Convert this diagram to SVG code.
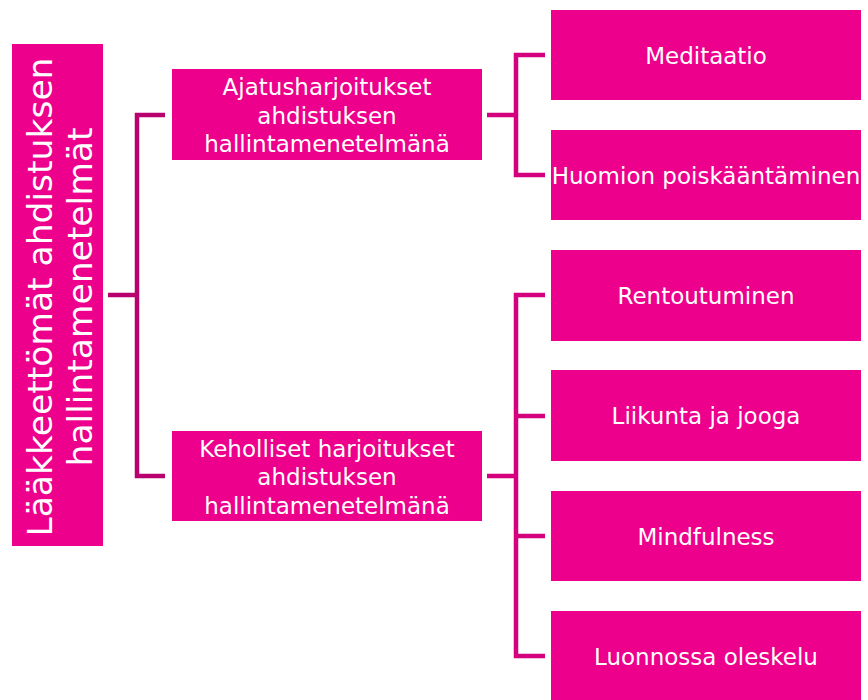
<svg xmlns="http://www.w3.org/2000/svg" width="868" height="700" viewBox="0 0 868 700">
<style>
.box{fill:#EC008C;}
.t{font-family:"DejaVu Sans","Liberation Sans",sans-serif;fill:#FFFFFF;text-anchor:middle;font-size:23px;}
.root{font-size:34.5px;}
.c1{fill:none;stroke:#B8006F;stroke-width:4.5;stroke-linejoin:miter;}
.c2{fill:none;stroke:#D4007E;stroke-width:4.5;stroke-linejoin:miter;}
</style>
<rect width="868" height="700" fill="#FFFFFF"/>
<g id="connectors">
<path class="c1" d="M108 295H137M165 115H137V476H165"/>
<path class="c2" d="M487 115H516M545 55H516V175H545"/>
<path class="c2" d="M487 476H516M545 295H516V656H545M516 416H545M516 536H545"/>
</g>
<g id="root">
<rect class="box" x="12" y="44" width="91" height="502"/>
<text class="t root" transform="translate(52,297) rotate(-90)">Lääkkeettömät ahdistuksen</text>
<text class="t root" transform="translate(92,297) rotate(-90)">hallintamenetelmät</text>
</g>
<g id="ajatus">
<rect class="box" x="172" y="69" width="310" height="91"/>
<text class="t" x="327" y="95">Ajatusharjoitukset</text>
<text class="t" x="327" y="123.5">ahdistuksen</text>
<text class="t" x="327" y="152">hallintamenetelmänä</text>
</g>
<g id="keho">
<rect class="box" x="172" y="431" width="310" height="90"/>
<text class="t" x="327" y="456.5">Keholliset harjoitukset</text>
<text class="t" x="327" y="485">ahdistuksen</text>
<text class="t" x="327" y="513.5">hallintamenetelmänä</text>
</g>
<g id="meditaatio">
<rect class="box" x="551" y="10" width="310" height="90"/>
<text class="t" x="706" y="63.5">Meditaatio</text>
</g>
<g id="huomion">
<rect class="box" x="551" y="130" width="310" height="90"/>
<text class="t" x="706" y="183.5">Huomion poiskääntäminen</text>
</g>
<g id="rentoutuminen">
<rect class="box" x="551" y="250" width="310" height="91"/>
<text class="t" x="706" y="304">Rentoutuminen</text>
</g>
<g id="liikunta">
<rect class="box" x="551" y="370" width="310" height="91"/>
<text class="t" x="706" y="424">Liikunta ja jooga</text>
</g>
<g id="mindfulness">
<rect class="box" x="551" y="491" width="310" height="90"/>
<text class="t" x="706" y="544.5">Mindfulness</text>
</g>
<g id="luonnossa">
<rect class="box" x="551" y="611" width="310" height="90"/>
<text class="t" x="706" y="664.5">Luonnossa oleskelu</text>
</g>
</svg>
